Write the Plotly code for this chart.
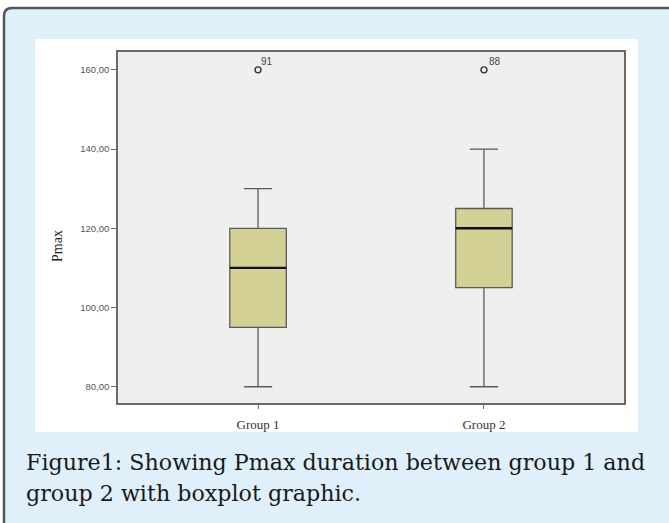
import plotly.graph_objects as go

# ---- data ----
groups = ["Group 1", "Group 2"]
lower_whisker = [80, 80]
q1 = [95, 105]
median = [110, 120]
q3 = [120, 125]
upper_whisker = [130, 140]
outlier_values = [160, 160]
outlier_labels = ["91", "88"]
y_ticks = [80, 100, 120, 140, 160]
y_tick_labels = ["80,00", "100,00", "120,00", "140,00", "160,00"]
caption_lines = ["Figure1: Showing Pmax duration between group 1 and",
                 "group 2 with boxplot graphic."]

W, H = 669, 523
L, R, T, B = 118, 624, 52, 403
BOXW = 0.25


def px(x):
    return (x - L) / (R - L)


def py(y):
    return (B - y) / (B - T)


fig = go.Figure()
positions = list(range(len(groups)))

for i, g in enumerate(groups):
    fig.add_trace(go.Box(
        x=[positions[i]], q1=[q1[i]], median=[median[i]], q3=[q3[i]],
        lowerfence=[lower_whisker[i]], upperfence=[upper_whisker[i]],
        width=BOXW, whiskerwidth=0.5,
        fillcolor="#d4d197", line=dict(color="#5a5a5a", width=1.3),
        boxpoints=False, showlegend=False, hoverinfo="skip",
    ))
    fig.add_trace(go.Scatter(
        x=[positions[i] - BOXW / 2, positions[i] + BOXW / 2],
        y=[median[i], median[i]], mode="lines",
        line=dict(color="#111111", width=2.4), showlegend=False, hoverinfo="skip",
    ))

fig.add_trace(go.Scatter(
    x=positions, y=outlier_values, mode="markers",
    marker=dict(symbol="circle-open", size=6, color="#333333", line=dict(width=1.4)),
    showlegend=False, hoverinfo="skip",
))

shapes = []
# outer blue frame with rounded top-left corner
r = 8
x0, y0 = px(4), py(8)
x1, y1 = px(700), py(560)
rx = r / (R - L)
ry = r / (B - T)
path = (f"M {x0},{y1} L {x0},{y0 - ry} Q {x0},{y0} {x0 + rx},{y0} "
        f"L {x1},{y0} L {x1},{y1} Z")
shapes.append(dict(type="path", path=path, xref="paper", yref="paper",
                   fillcolor="#dff0fb", line=dict(color="#555555", width=2.5),
                   layer="below"))
# white panel
shapes.append(dict(type="rect", xref="paper", yref="paper",
                   x0=px(35), x1=px(638), y0=py(432), y1=py(39),
                   fillcolor="#ffffff", line=dict(width=0), layer="below"))
# gray plot area
shapes.append(dict(type="rect", xref="paper", yref="paper",
                   x0=0, x1=1, y0=0, y1=1,
                   fillcolor="#efefef", line=dict(width=0), layer="below"))

annotations = [
    dict(text="Pmax", x=px(57), y=py(246), xref="paper", yref="paper",
         xanchor="center", yanchor="middle",
         showarrow=False, textangle=-90,
         font=dict(family="Liberation Serif", size=14, color="#222222")),
]
for i, lab in enumerate(outlier_labels):
    annotations.append(dict(
        text=lab, x=positions[i], y=outlier_values[i], xref="x", yref="y",
        xanchor="left", yanchor="middle", xshift=1 + 2 * i, yshift=8,
        showarrow=False,
        font=dict(family="Liberation Sans", size=10, color="#444444")))
for k, line in enumerate(caption_lines):
    annotations.append(dict(
        text=line, x=px(24), y=py(462 + 31 * k), xref="paper", yref="paper",
        xanchor="left", yanchor="middle", showarrow=False,
        font=dict(family="DejaVu Serif", size=22.2, color="#1a1a1a")))

fig.update_layout(
    width=W, height=H,
    margin=dict(l=L, r=W - R, t=T, b=H - B, pad=0),
    paper_bgcolor="#ffffff", plot_bgcolor="rgba(0,0,0,0)",
    shapes=shapes, annotations=annotations,
    xaxis=dict(range=[-0.62, 1.62], tickvals=positions, ticktext=groups,
               showgrid=False, zeroline=False, showline=True, mirror=True,
               linecolor="#6a6a6a", linewidth=1.5,
               ticks="outside", ticklen=4, tickcolor="#6a6a6a",
               ticklabelstandoff=5,
               tickfont=dict(family="Liberation Serif", size=13, color="#333333")),
    yaxis=dict(range=[75.9, 164.5], tickvals=y_ticks, ticktext=y_tick_labels,
               showgrid=False, zeroline=False, showline=True, mirror=True,
               linecolor="#6a6a6a", linewidth=1.5,
               ticks="outside", ticklen=5, tickcolor="#6a6a6a",
               tickfont=dict(family="Liberation Sans", size=9.5, color="#555555")),
)

fig.write_html("out.html", config={"displayModeBar": False},
               post_script="document.body.style.margin='0';document.body.style.overflow='hidden';")
